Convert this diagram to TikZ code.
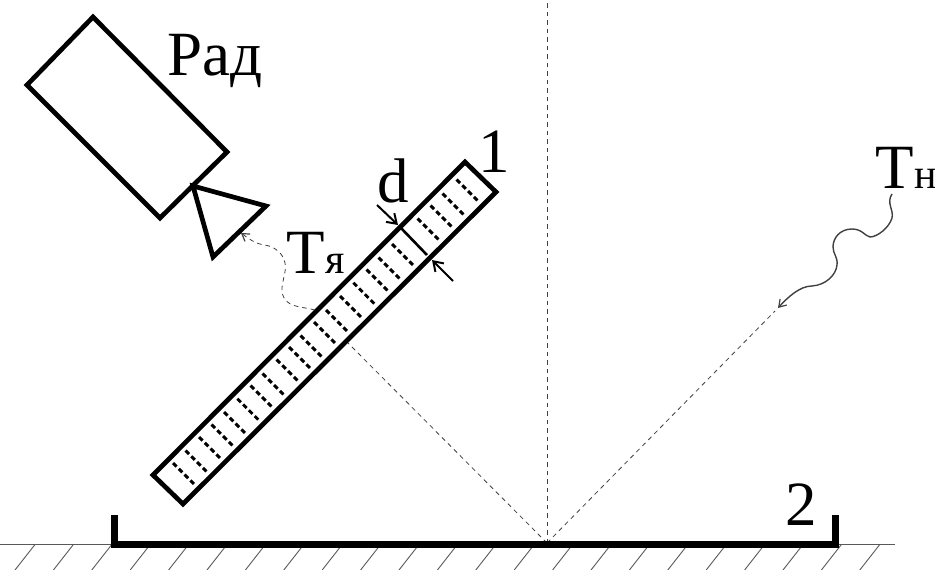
\documentclass[tikz,border=0pt]{standalone}
\usepackage{fontspec}
\setmainfont{Liberation Serif}
\usetikzlibrary{arrows.meta}
\tikzset{
  heavy/.style={line width=4.7pt,line join=miter,black},
  tray/.style={line width=7pt,black,line join=miter},
  divider/.style={line width=2.6pt,black},
  rowdash/.style={line width=2.9pt,black,dash pattern=on 5pt off 3.2pt},
  ray/.style={line width=0.8pt,black!75,dash pattern=on 4.5pt off 4pt},
  wave/.style={line width=1.4pt,black!75},
  tipped/.style={-{Straight Barb[length=7pt,width=9pt,line width=1.2pt]}},
  dimarrow/.style={line width=2pt,black,-{Straight Barb[length=9pt,width=12pt,line width=2pt]}},
  ground/.style={line width=0.9pt,black!65},
  big/.style={inner sep=0pt,anchor=base west,font=\fontsize{63}{63}\selectfont},
  small/.style={inner sep=0pt,anchor=base west,font=\fontsize{42}{42}\selectfont}
}
\begin{document}
\begin{tikzpicture}[x=1pt,y=-1pt]
\useasboundingbox (0,0) rectangle (935,570);
% ground
\coordinate (g0) at (0,544.5);
\coordinate (g1) at (895,544.5);
\draw[ground] (g0) -- (g1);
\foreach \k in {0,...,22}{
  \draw[ground] ({35+38.4*\k},544.5) -- ({15+38.4*\k},570);
}
% rays
\coordinate (R) at (547,543);
\coordinate (Rtop) at (547,0);
\coordinate (Rright) at (775,311);
\coordinate (Rleft) at (348,343);
\draw[ray] (R) -- (Rtop);
\draw[ray] (R) -- (Rright);
\draw[ray] (R) -- (Rleft);
% tray
\coordinate (t0) at (114.5,515);
\coordinate (t1) at (114.5,544.5);
\coordinate (t2) at (835.5,544.5);
\coordinate (t3) at (835.5,515);
\draw[tray] (t0) -- (t1) -- (t2) -- (t3);
% radiometer
\coordinate (a0) at (93,17);
\coordinate (a1) at (227,152);
\coordinate (a2) at (160,218);
\coordinate (a3) at (27,85);
\draw[heavy] (a0) -- (a1) -- (a2) -- (a3) -- cycle;
\coordinate (h0) at (193,186);
\coordinate (h1) at (266,206);
\coordinate (h2) at (213,257);
\draw[heavy] (h0) -- (h1) -- (h2) -- cycle;
% plate
\foreach \x in {173,185.5,199,211.5,224,237.3,250.5,262.5,276.5,289,300.5,314,326,340,353.3,366.5,378.5,392,417.5,430.5,442.5,456.5}{
  \draw[rowdash] (\x,636-\x) -- ({\x+21.5},{636-\x+21.5});
}
\coordinate (p0) at (465,162);
\coordinate (p1) at (496,192);
\coordinate (p2) at (183,504);
\coordinate (p3) at (153,475);
\draw[heavy] (p0) -- (p1) -- (p2) -- (p3) -- cycle;
\coordinate (d0) at (400,227);
\coordinate (d1) at (427,255);
\draw[divider] (d0) -- (d1);
% dimension arrows
\coordinate (e0) at (377,205);
\coordinate (e1) at (398,225);
\coordinate (f0) at (453,281);
\coordinate (f1) at (432,260);
\draw[dimarrow] (e0) -- (e1);
\draw[dimarrow] (f0) -- (f1);
% emitted wave (dashed)
\coordinate (w0) at (315,310);
\coordinate (w1) at (241,233);
\draw[ray,tipped] (w0) .. controls (300,306) and (285,308) .. (282,292)
  .. controls (281,283) and (287,272) .. (285,263)
  .. controls (283,253) and (275,247) .. (265,245)
  .. controls (255,244) and (248,238) .. (w1);
% incoming wave
\coordinate (v0) at (892,194);
\coordinate (v1) at (778,308);
\draw[wave,tipped] (v0) .. controls (886,203) and (894,210) .. (892,218)
  .. controls (889,228) and (877,237) .. (870,237)
  .. controls (865,236) and (862,229) .. (852,229)
  .. controls (840,229) and (833,238) .. (833,247)
  .. controls (833,254) and (838,257) .. (837,265)
  .. controls (836,275) and (826,285) .. (812,286)
  .. controls (800,286) and (788,297) .. (v1);
% labels
\node[big] (rad) at (167,75) {Рад};
\node[big] (dl) at (377,202) {d};
\node[big] (one) at (478,172) {1};
\node[big] (two) at (785,525) {2};
\node[big] (tya) at (286,273) {Т};
\node[small] (ya) at (325,273) {я};
\node[big] (tn) at (875,188) {Т};
\node[small] (nn) at (914,188) {н};
\end{tikzpicture}
\end{document}
